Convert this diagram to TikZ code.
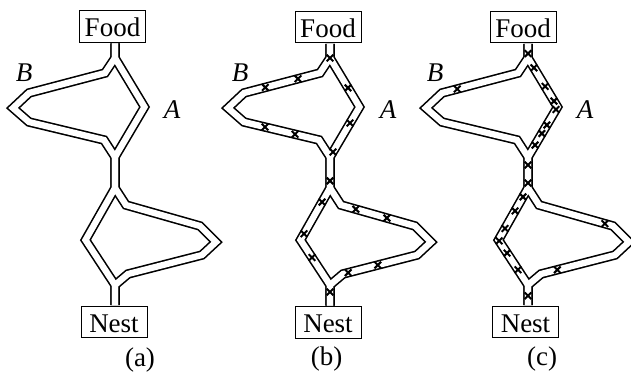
\documentclass[tikz,border=0pt]{standalone}
\usepackage{fontspec}
\setmainfont{Liberation Serif}
\usetikzlibrary{shapes.misc}
\tikzset{
  box/.style={draw, line width=1pt, fill=white, minimum width=66pt, minimum height=31.5pt,
    inner sep=0pt, text height=20.5pt, font=\fontsize{27}{30}\selectfont},
  lab/.style={font=\fontsize{27}{30}\selectfont\itshape, inner sep=0pt},
  capt/.style={font=\fontsize{27}{30}\selectfont, inner sep=0pt, anchor=base},
  chanout/.style={line width=9.5pt, line join=miter, draw=black, shorten <=0.6pt, shorten >=0.6pt},
  chanin/.style={line width=6.3pt, line join=miter, draw=white, shorten <=0.6pt, shorten >=0.6pt},
  ant/.style={cross out, draw=black, line width=2pt, minimum size=4.6pt, inner sep=0pt},
}
\newcommand\chnet[2]{%
  \coordinate (J1) at (0,58);
  \coordinate (R1) at (29.5,107);
  \coordinate (J2) at (0,157);
  \coordinate (P1) at (-10,73);
  \coordinate (P2) at (-86,93);
  \coordinate (P3) at (-102,108);
  \coordinate (P4) at (-86,122);
  \coordinate (P5) at (-11,140);
  \coordinate (J3) at (0,188);
  \coordinate (L3) at (-29.5,240);
  \coordinate (J4) at (0,285);
  \coordinate (Q1) at (11,205);
  \coordinate (Q2) at (85,226);
  \coordinate (Q3) at (101,242);
  \coordinate (Q4) at (87,255);
  \coordinate (Q5) at (13,274);
  \foreach \st in {chanout,chanin}{
    \draw[\st] (J1 |- #1.south) -- (J1) -- (R1) -- (J2) -- (J3) -- (Q1) -- (Q2) -- (Q3) -- (Q4) -- (Q5) -- (J4) -- (J4 |- #2.north);
    \draw[\st] (J1 |- #1.south) -- (J1) -- (P1) -- (P2) -- (P3) -- (P4) -- (P5) -- (J2) -- (J3) -- (L3) -- (J4) -- (J4 |- #2.north);
  }
}
\begin{document}
\begin{tikzpicture}[x=1pt,y=-1pt]
\fill[white] (0,0) rectangle (631,373);
\useasboundingbox (0,0) rectangle (631,373);

% panel (a)
\begin{scope}[shift={(115,0)}]
  \node[box] (fa) at (-2.5,26.5) {Food};
  \node[box] (na) at (-1,322) {Nest};
  \chnet{fa}{na}
  \node[lab] (Ba) at (-91,73) {B};
  \node[lab] (Aa) at (57,110) {A};
\end{scope}

% panel (b)
\begin{scope}[shift={(330,0)}]
  \node[box] (fb) at (-2,27) {Food};
  \node[box] (nb) at (-2,322.5) {Nest};
  \chnet{fb}{nb}
  \node[lab] (Bb) at (-90,73) {B};
  \node[lab] (Ab) at (58,110) {A};
  \path (J1) node[ant]{};
  \path (P1) -- (P2) node[ant,pos=.29]{} node[ant,pos=.72]{};
  \path (J1) -- (R1) node[ant,pos=.61]{};
  \path (R1) -- (J2) node[ant,pos=.32]{} node[ant,pos=.9]{};
  \path (P4) -- (P5) node[ant,pos=.28]{} node[ant,pos=.68]{};
  \path (J2) -- (J3) node[ant,pos=.77]{};
  \path (J3) -- (L3) node[ant,pos=.27]{} node[ant,pos=.88]{};
  \path (L3) -- (J4) node[ant,pos=.39]{};
  \path (J4) -- (J4 |- nb.north) node[ant,pos=.33]{};
  \path (Q1) -- (Q2) node[ant,pos=.2]{} node[ant,pos=.62]{};
  \path (Q4) -- (Q5) node[ant,pos=.53]{} node[ant,pos=.93]{};
\end{scope}

% panel (c)
\begin{scope}[shift={(528,0)}]
  \node[box] (fc) at (-5,27) {Food};
  \node[box] (nc) at (-2.5,322) {Nest};
  \chnet{fc}{nc}
  \node[lab] (Bc) at (-93,73) {B};
  \node[lab] (Ac) at (57,110) {A};
  \path (J1 |- fc.south) -- (J1) node[ant,pos=.7]{};
  \path (J1) -- (R1) node[ant,pos=.2]{} node[ant,pos=.58]{} node[ant,pos=.88]{};
  \path (R1) -- (J2) node[ant,pos=.05]{} node[ant,pos=.36]{} node[ant,pos=.53]{} node[ant,pos=.76]{};
  \path (P1) -- (P2) node[ant,pos=.8]{};
  \path (J2) -- (J3) node[ant,pos=.26]{} node[ant,pos=.84]{};
  \path (J3) -- (L3) node[ant,pos=.17]{} node[ant,pos=.44]{} node[ant,pos=.78]{};
  \path (L3) -- (J4) node[ant,pos=.02]{} node[ant,pos=.29]{} node[ant,pos=.66]{};
  \path (J4) -- (J4 |- nc.north) node[ant,pos=.52]{};
  \path (Q1) -- (Q2) node[ant,pos=.89]{};
  \path (Q4) -- (Q5) node[ant,pos=.78]{};
\end{scope}

\node[capt] (ca) at (140,366) {(a)};
\node[capt] (cb) at (326.5,365) {(b)};
\node[capt] (cc) at (542,365) {(c)};
\end{tikzpicture}
\end{document}
